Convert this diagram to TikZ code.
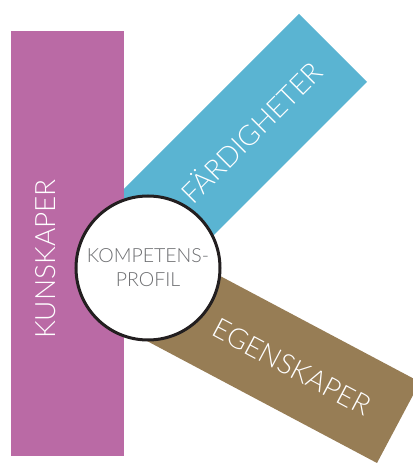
\documentclass[tikz,border=0pt]{standalone}
\usepackage{fontspec}
\setmainfont{Lato}[UprightFont=* Light]
\definecolor{kpurple}{HTML}{BA6AA5}
\definecolor{fblue}{HTML}{5AB4D2}
\definecolor{ebrown}{HTML}{977D55}
\definecolor{pgrey}{HTML}{6D6E71}
\definecolor{rim}{HTML}{231F20}

\begin{document}
\begin{tikzpicture}[x=1pt, y=1pt,
    band/.style={text=white, font=\fontsize{28}{30}\selectfont, text height=20pt, text depth=0pt, inner sep=0pt},
    hub/.style={circle, draw=rim, line width=3pt, fill=white, minimum size=144pt, inner sep=0pt}]
\useasboundingbox (0,0) rectangle (413,464);
\begin{scope}
  \clip (0,0) rectangle (413,464);
  % the two slanted bands go under the bar and the circle
  \fill[fblue] (299,450) -- (367,382) -- (167,182) -- (119,270) -- cycle;
  \fill[ebrown] (420,82) -- (377,1) -- (130,132) -- (190,204) -- cycle;
\end{scope}
\fill[kpurple] (11,8) rectangle (124,433);
\node[hub] (c) at (148,196) {};
\node[text=pgrey, font=\fontsize{19.5}{24}\selectfont, align=center] (t) at (c.center) {KOMPETENS-\\PROFIL};
\node[band, rotate=90] (k) at (45,205) {KUNSKAPER};
\node[band, rotate=45] (f) at (252,331) {FÄRDIGHETER};
\node[band, rotate=-28] (e) at (292,97) {EGENSKAPER};
\end{tikzpicture}
\end{document}
